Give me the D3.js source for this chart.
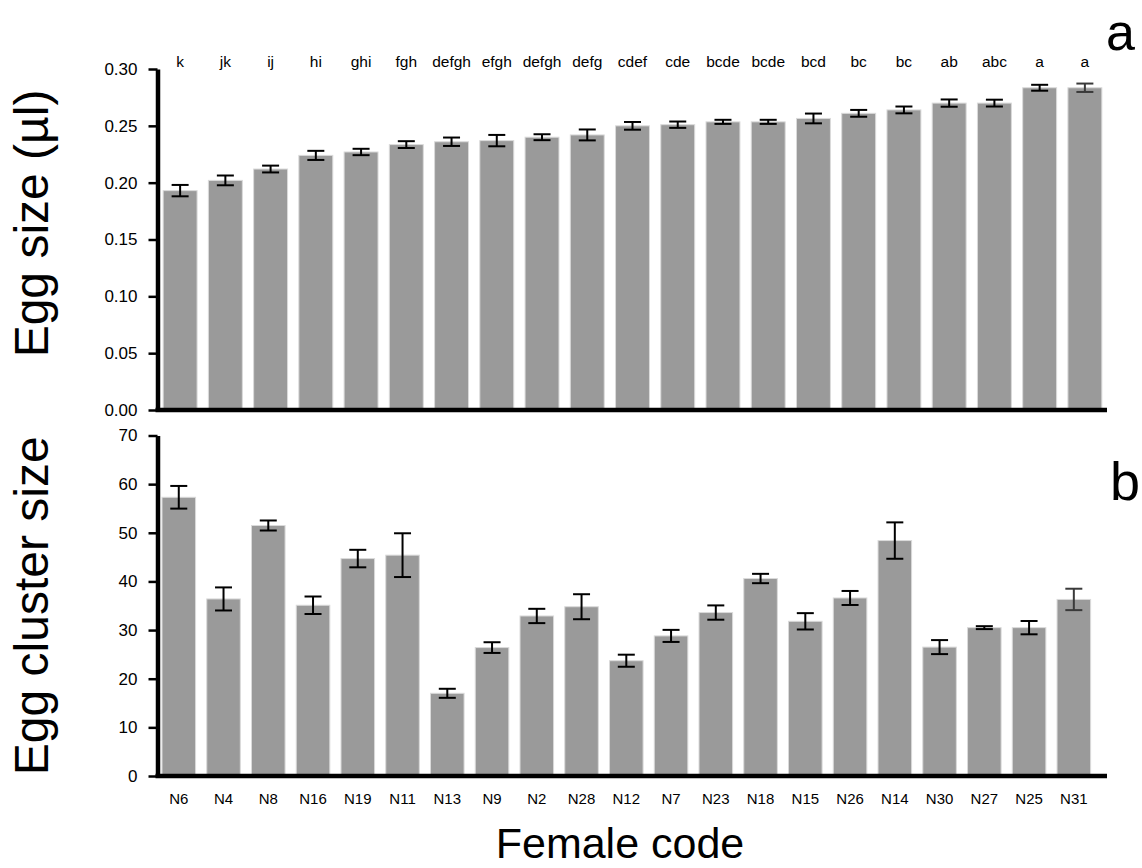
<!DOCTYPE html>
<html>
<head>
<meta charset="utf-8">
<script src="https://cdn.jsdelivr.net/npm/d3@7"></script>
<style>
  body { margin: 0; background: #fff; }
  svg { font-family: "Liberation Sans", Arial, Helvetica, sans-serif; }
  .tick text { fill: #000; }
</style>
</head>
<body>
<div id="chart"></div>
<script>
// female codes, in plotted order
var females = ["N6", "N4", "N8", "N16", "N19", "N11", "N13", "N9", "N2", "N28", "N12",
    "N7", "N23", "N18", "N15", "N26", "N14", "N30", "N27", "N25", "N31"];

// panel a: egg size (µl), mean and SE
var eggSize = [0.193, 0.202, 0.212, 0.224, 0.227, 0.2335, 0.236, 0.237, 0.240, 0.242, 0.250,
    0.251, 0.2535, 0.2535, 0.2565, 0.261, 0.264, 0.270, 0.270, 0.2835, 0.2835];
var eggSizeSE = [0.005, 0.0043, 0.003, 0.004, 0.0028, 0.003, 0.0037, 0.005, 0.0026, 0.0048, 0.0034,
    0.0028, 0.0018, 0.0018, 0.0043, 0.003, 0.003, 0.0032, 0.003, 0.0026, 0.0037];
var groups = ["k", "jk", "ij", "hi", "ghi", "fgh", "defgh", "efgh", "defgh", "defg", "cdef",
    "cde", "bcde", "bcde", "bcd", "bc", "bc", "ab", "abc", "a", "a"];

// panel b: egg cluster size, mean and SE
var clusterSize = [57.3, 36.4, 51.5, 35.1, 44.7, 45.4, 17.0, 26.4, 32.9, 34.8, 23.7,
    28.8, 33.6, 40.6, 31.8, 36.6, 48.4, 26.5, 30.5, 30.5, 36.3];
var clusterSizeSE = [2.33, 2.37, 1.03, 1.8, 1.8, 4.5, 0.93, 1.1, 1.47, 2.57, 1.24,
    1.24, 1.47, 0.96, 1.68, 1.44, 3.74, 1.44, 0.3, 1.37, 2.2];

var eggTicks = [0, 0.05, 0.10, 0.15, 0.20, 0.25, 0.30];
var clusterTicks = [0, 10, 20, 30, 40, 50, 60, 70];

var width = 1142, height = 868;
var axisX = 157.5, axisEnd = 1107;

var svg = d3.select("#chart").append("svg")
    .attr("width", width).attr("height", height);

// scales
var xTop = d3.scaleBand().domain(females).range([157.5, 1107.5])
    .paddingInner(0.25).paddingOuter(0.125);
var xBottom = d3.scaleBand().domain(females).range([156.4, 1096.2])
    .paddingInner(0.25).paddingOuter(0.125);
var yTop = d3.scaleLinear().domain([0, 0.30]).range([410, 69]);
var yBottom = d3.scaleLinear().domain([0, 70]).range([776, 435.5]);

function drawPanel(x, y, values, se, ticks, fmt) {
    var g = svg.append("g");

    // bars
    g.selectAll("rect").data(values).enter().append("rect")
        .attr("x", (d, i) => x(females[i]))
        .attr("width", x.bandwidth())
        .attr("y", d => y(d))
        .attr("height", d => y(0) - y(d))
        .attr("fill", "#9a9a9a")
        .attr("stroke", "#dadada")
        .attr("stroke-width", 1);

    // error bars
    var capHalf = 8.5;
    var err = g.selectAll("g.err").data(values).enter().append("g")
        .attr("class", "err")
        .attr("stroke", (d, i) => i === values.length - 1 ? "#3a3a3a" : "#000")
        .attr("stroke-width", 2);
    err.append("line")
        .attr("x1", (d, i) => x(females[i]) + x.bandwidth() / 2)
        .attr("x2", (d, i) => x(females[i]) + x.bandwidth() / 2)
        .attr("y1", (d, i) => y(d + se[i]))
        .attr("y2", (d, i) => y(d - se[i]));
    err.append("line")
        .attr("x1", (d, i) => x(females[i]) + x.bandwidth() / 2 - capHalf)
        .attr("x2", (d, i) => x(females[i]) + x.bandwidth() / 2 + capHalf)
        .attr("y1", (d, i) => y(d + se[i]))
        .attr("y2", (d, i) => y(d + se[i]));
    err.append("line")
        .attr("x1", (d, i) => x(females[i]) + x.bandwidth() / 2 - capHalf)
        .attr("x2", (d, i) => x(females[i]) + x.bandwidth() / 2 + capHalf)
        .attr("y1", (d, i) => y(d - se[i]))
        .attr("y2", (d, i) => y(d - se[i]));

    // y axis
    var yAxis = d3.axisLeft(y).tickValues(ticks).tickFormat(fmt)
        .tickSize(9).tickSizeOuter(0).tickPadding(11);
    var ya = g.append("g").attr("transform", `translate(${axisX},0)`).call(yAxis);
    ya.select(".domain").attr("stroke", "#000").attr("stroke-width", 4.5);
    ya.selectAll(".tick line").attr("stroke", "#000").attr("stroke-width", 2.5);
    ya.selectAll(".tick text").attr("font-size", 17).attr("font-family", "Liberation Sans, Arial, sans-serif");

    // baseline
    g.append("line")
        .attr("x1", axisX - 2).attr("x2", axisEnd)
        .attr("y1", y(0)).attr("y2", y(0))
        .attr("stroke", "#000").attr("stroke-width", 4.5);
    return g;
}

drawPanel(xTop, yTop, eggSize, eggSizeSE, eggTicks, d3.format(".2f"));
drawPanel(xBottom, yBottom, clusterSize, clusterSizeSE, clusterTicks, d3.format("d"));

// significance letters above panel a
svg.append("g").selectAll("text").data(groups).enter().append("text")
    .attr("x", (d, i) => xTop(females[i]) + xTop.bandwidth() / 2)
    .attr("y", 67)
    .attr("text-anchor", "middle")
    .attr("font-size", 15.5)
    .text(d => d);

// female codes under panel b
var xAxis = d3.axisBottom(xBottom).tickSize(0).tickPadding(17);
var xa = svg.append("g").attr("transform", `translate(0,${yBottom(0)})`).call(xAxis);
xa.select(".domain").remove();
xa.selectAll(".tick text").attr("font-size", 15).attr("font-family", "Liberation Sans, Arial, sans-serif");

// axis titles
svg.append("text")
    .attr("transform", `translate(48,${(yTop(0) + yTop(0.30)) / 2 - 16})rotate(-90)`)
    .attr("text-anchor", "middle")
    .attr("font-size", 48)
    .text("Egg size (µl)");

svg.append("text")
    .attr("transform", `translate(48,${(yBottom(0) + yBottom(70)) / 2})rotate(-90)`)
    .attr("text-anchor", "middle")
    .attr("font-size", 48)
    .text("Egg cluster size");

svg.append("text")
    .attr("x", 620).attr("y", 858)
    .attr("text-anchor", "middle")
    .attr("font-size", 43)
    .text("Female code");

// panel letters
svg.append("text").attr("x", 1106).attr("y", 50).attr("font-size", 52).text("a");
svg.append("text").attr("x", 1110).attr("y", 500).attr("font-size", 54).text("b");
</script>
</body>
</html>
